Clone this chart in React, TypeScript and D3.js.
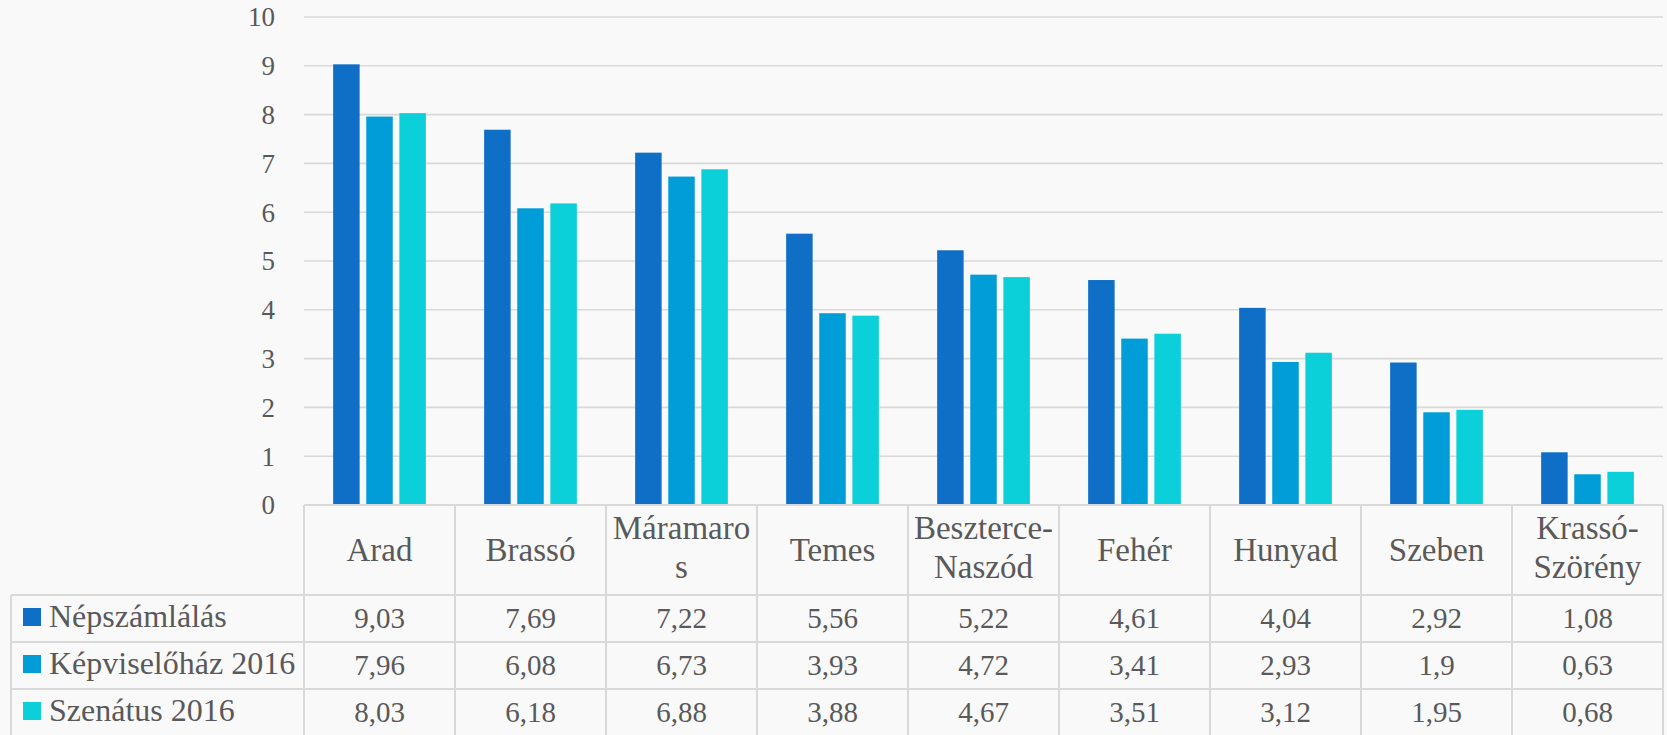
import React from "react";
import * as d3 from "d3";

const categories = ["Arad", "Brassó", "Máramaros", "Temes", "Beszterce-Naszód", "Fehér", "Hunyad", "Szeben", "Krassó-Szörény"];
const categoryLines = [["Arad"], ["Brassó"], ["Máramaro", "s"], ["Temes"], ["Beszterce-", "Naszód"], ["Fehér"], ["Hunyad"], ["Szeben"], ["Krassó-", "Szörény"]];
const seriesNames = ["Népszámlálás", "Képviselőház 2016", "Szenátus 2016"];
const nepszamlalas = [9.03, 7.69, 7.22, 5.56, 5.22, 4.61, 4.04, 2.92, 1.08];
const kepviselohaz = [7.96, 6.08, 6.73, 3.93, 4.72, 3.41, 2.93, 1.9, 0.63];
const szenatus = [8.03, 6.18, 6.88, 3.88, 4.67, 3.51, 3.12, 1.95, 0.68];
const seriesValues = [nepszamlalas, kepviselohaz, szenatus];
const tableLabels = [
  ["9,03", "7,69", "7,22", "5,56", "5,22", "4,61", "4,04", "2,92", "1,08"],
  ["7,96", "6,08", "6,73", "3,93", "4,72", "3,41", "2,93", "1,9", "0,63"],
  ["8,03", "6,18", "6,88", "3,88", "4,67", "3,51", "3,12", "1,95", "0,68"],
];
const yTicks = [0, 1, 2, 3, 4, 5, 6, 7, 8, 9, 10];
const colors = ["#0F6FC6", "#009DD9", "#0BD0D9"];

const W = 1667;
const H = 735;
const plotLeft = 304;
const plotRight = 1663;
const plotTop = 17;
const plotBottom = 505;
const headerBottom = 595;
const rowH = 47;
const tableLeft = 11;
const FONT = "'Liberation Serif', 'Times New Roman', serif";
const TEXT = "#595959";
const GRID = "#d9d9d9";

export default function App() {
  const x = d3.scaleBand<string>().domain(categories).range([plotLeft, plotRight]);
  const cw = x.bandwidth();
  const inner = d3
    .scaleBand<string>()
    .domain(seriesNames)
    .range([cw * 0.193, cw * (1 - 0.193)])
    .paddingInner(0.2)
    .paddingOuter(0);
  const y = d3.scaleLinear().domain([0, 10]).range([plotBottom, plotTop]);

  const rowTops = seriesNames.map((_, i) => headerBottom + i * rowH);
  const tableBottom = headerBottom + seriesNames.length * rowH;

  return (
    <svg
      width={W}
      height={H}
      style={{ position: "absolute", left: 0, top: 0, display: "block" }}
      fontFamily={FONT}
    >
      <rect x={0} y={0} width={W} height={H} fill="#f9f9f9" />
      {/* gridlines */}
      {yTicks.filter((t) => t > 0).map((t) => (
        <line key={"g" + t} x1={plotLeft} x2={plotRight} y1={y(t)} y2={y(t)} stroke={GRID} strokeWidth={1.6} />
      ))}
      {/* y tick labels */}
      {yTicks.map((t) => (
        <text key={"t" + t} x={275} y={y(t)} dy="0.35em" textAnchor="end" fontSize={27} fill={TEXT}>
          {t}
        </text>
      ))}
      {/* bars */}
      {categories.map((c, ci) => (
        <g key={c} transform={`translate(${x(c)},0)`}>
          {seriesNames.map((s, si) => (
            <rect
              key={s}
              x={inner(s)}
              y={y(seriesValues[si][ci])}
              width={inner.bandwidth()}
              height={y(0) - y(seriesValues[si][ci])}
              fill={colors[si]}
            />
          ))}
        </g>
      ))}
      {/* table lines */}
      <g stroke={GRID} strokeWidth={2} fill="none">
        <line x1={plotLeft} x2={plotRight} y1={plotBottom} y2={plotBottom} />
        {rowTops.map((ry, i) => (
          <line key={"r" + i} x1={tableLeft} x2={plotRight} y1={ry} y2={ry} />
        ))}
        <line x1={tableLeft} x2={plotRight} y1={tableBottom} y2={tableBottom} />
        <line x1={tableLeft} x2={tableLeft} y1={headerBottom} y2={tableBottom} />
        {categories.map((c) => (
          <line key={"v" + c} x1={x(c)} x2={x(c)} y1={plotBottom} y2={tableBottom} />
        ))}
        <line x1={plotRight} x2={plotRight} y1={plotBottom} y2={tableBottom} />
      </g>
      {/* header labels */}
      {categories.map((c, ci) => {
        const lines = categoryLines[ci];
        const cx = (x(c) as number) + cw / 2;
        const baseY = lines.length === 1 ? 561 : 539;
        return (
          <text key={"h" + c} x={cx} textAnchor="middle" fontSize={33} fill={TEXT}>
            {lines.map((l, li) => (
              <tspan key={li} x={cx} y={baseY + li * 39}>
                {l}
              </tspan>
            ))}
          </text>
        );
      })}
      {/* legend + values */}
      {seriesNames.map((s, si) => (
        <g key={"row" + s}>
          <rect x={23} y={rowTops[si] + 13} width={18} height={18} fill={colors[si]} />
          <text x={49} y={rowTops[si] + 32} fontSize={32} fill={TEXT}>
            {s}
          </text>
          {categories.map((c, ci) => (
            <text
              key={c}
              x={(x(c) as number) + cw / 2}
              y={rowTops[si] + 33}
              textAnchor="middle"
              fontSize={29}
              fill={TEXT}
            >
              {tableLabels[si][ci]}
            </text>
          ))}
        </g>
      ))}
    </svg>
  );
}
